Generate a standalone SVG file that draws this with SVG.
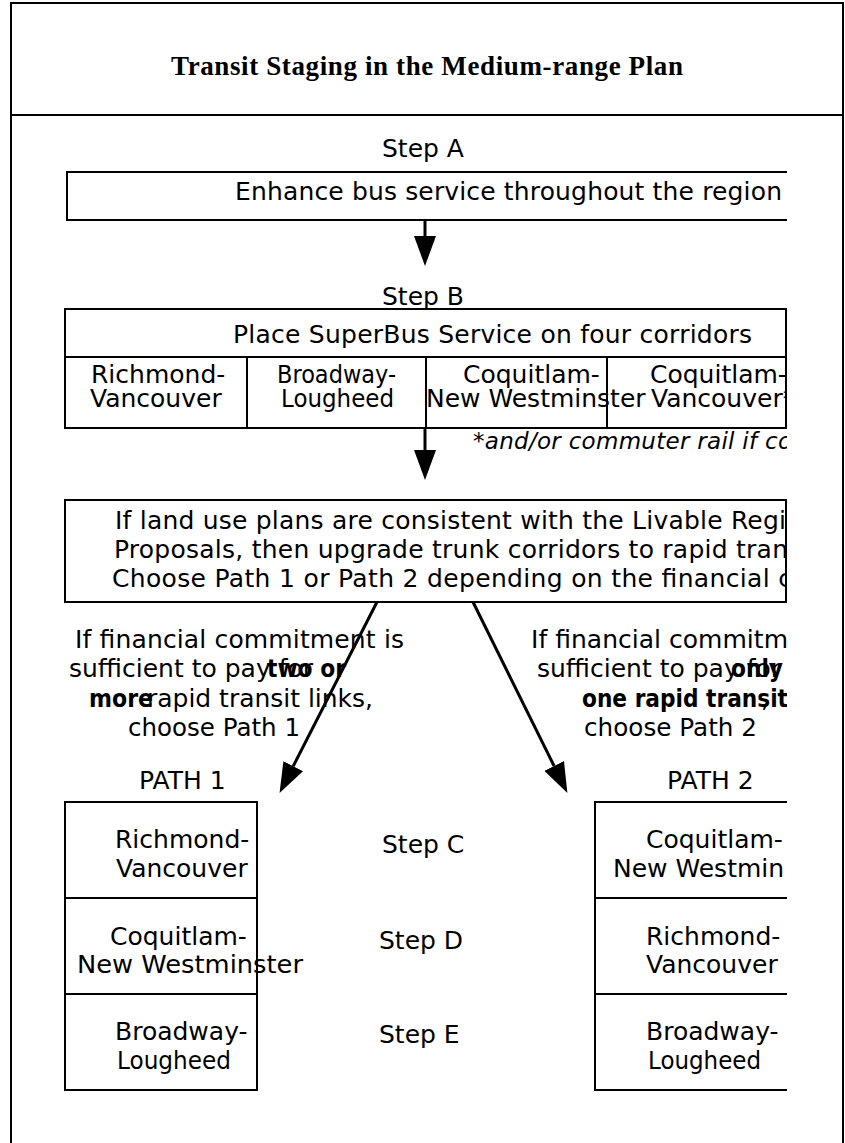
<svg xmlns="http://www.w3.org/2000/svg" width="845" height="1143" viewBox="0 0 845 1143">
<style>
.t{font-family:"DejaVu Sans",Verdana,sans-serif;font-size:25px;fill:#000}
.b{font-weight:bold}
.i{font-style:italic;font-size:23px}
.title{font-family:"Liberation Serif","Times New Roman",serif;font-weight:bold;font-size:27px;fill:#000}
.box{fill:#fff;stroke:#000;stroke-width:2}
.ln{fill:none;stroke:#000;stroke-width:2}
.conn{fill:none;stroke:#000;stroke-width:3}
</style>
<defs>
<marker id="ah" markerUnits="userSpaceOnUse" viewBox="0 0 30 22" refX="0" refY="11" markerWidth="30" markerHeight="22" orient="auto">
<path d="M0,0 L30,11 L0,22 z" fill="#000"/>
</marker>
<clipPath id="clip"><rect x="0" y="0" width="787" height="1143"/></clipPath>
</defs>
<rect x="0" y="0" width="845" height="1143" fill="#fff"/>
<g id="frame">
<path class="ln" d="M11,1143 V3 H843 V1143"/>
<line class="ln" x1="11" y1="115" x2="843" y2="115"/>
</g>
<g id="title">
<text class="title" x="171" y="75" textLength="512" lengthAdjust="spacing">Transit Staging in the Medium-range Plan</text>
</g>
<g clip-path="url(#clip)">
<g id="stepA">
<text class="t" x="382" y="157">Step A</text>
<rect class="box" x="67" y="172" width="721" height="48"/>
<text class="t" x="235" y="200" textLength="547" lengthAdjust="spacing">Enhance bus service throughout the region</text>
</g>
<g id="stepB">
<text class="t" x="382" y="305">Step B</text>
<rect class="box" x="65" y="309" width="721" height="119"/>
<line class="ln" x1="65" y1="357" x2="786" y2="357"/>
<line class="ln" x1="247" y1="357" x2="247" y2="428"/>
<line class="ln" x1="426" y1="357" x2="426" y2="428"/>
<line class="ln" x1="607" y1="357" x2="607" y2="428"/>
<text class="t" x="233" y="343" textLength="519" lengthAdjust="spacing">Place SuperBus Service on four corridors</text>
<text class="t" x="91" y="383">Richmond-</text>
<text class="t" x="90" y="407">Vancouver</text>
<text class="t" x="277" y="383" textLength="119" lengthAdjust="spacingAndGlyphs">Broadway-</text>
<text class="t" x="281" y="407" textLength="113" lengthAdjust="spacingAndGlyphs">Lougheed</text>
<text class="t" x="463" y="383">Coquitlam-</text>
<text class="t" x="426" y="407">New Westminster</text>
<text class="t" x="650" y="383">Coquitlam-</text>
<text class="t" x="651" y="407">Vancouver*</text>
<text class="t i" x="473" y="449" textLength="319" lengthAdjust="spacing">*and/or commuter rail if co</text>
</g>
<g id="decision">
<rect class="box" x="65" y="500" width="721" height="102"/>
<text class="t" x="115" y="529" textLength="671" lengthAdjust="spacing">If land use plans are consistent with the Livable Regi</text>
<text class="t" x="114" y="558" textLength="674" lengthAdjust="spacing">Proposals, then upgrade trunk corridors to rapid tran</text>
<text class="t" x="112" y="587" textLength="680" lengthAdjust="spacing">Choose Path 1 or Path 2 depending on the financial c</text>
</g>
<g id="label1">
<text class="t" x="75" y="648" textLength="329" lengthAdjust="spacing">If financial commitment is</text>
<text class="t" x="69" y="677">sufficient to pay for</text>
<text class="t b" x="267" y="677" textLength="79" lengthAdjust="spacingAndGlyphs">two or</text>
<text class="t b" x="89" y="707" textLength="64" lengthAdjust="spacingAndGlyphs">more</text>
<text class="t" x="147" y="707" textLength="226" lengthAdjust="spacing">rapid transit links,</text>
<text class="t" x="128" y="736" textLength="172" lengthAdjust="spacingAndGlyphs">choose Path 1</text>
</g>
<g id="label2">
<text class="t" x="531" y="648" textLength="257" lengthAdjust="spacing">If financial commitm</text>
<text class="t" x="537" y="677">sufficient to pay for</text>
<text class="t b" x="731" y="677" textLength="52" lengthAdjust="spacingAndGlyphs">only</text>
<text class="t b" x="582" y="707" textLength="206" lengthAdjust="spacingAndGlyphs">one rapid transit</text>
<text class="t" x="761" y="707">,</text>
<text class="t" x="584" y="736" textLength="173" lengthAdjust="spacingAndGlyphs">choose Path 2</text>
</g>
<g id="path1">
<text class="t" x="139" y="789">PATH 1</text>
<rect class="box" x="65" y="802" width="192" height="288"/>
<line class="ln" x1="65" y1="898" x2="257" y2="898"/>
<line class="ln" x1="65" y1="994" x2="257" y2="994"/>
<text class="t" x="115" y="848">Richmond-</text>
<text class="t" x="116" y="877">Vancouver</text>
<text class="t" x="110" y="945">Coquitlam-</text>
<text class="t" x="77" y="973" textLength="226" lengthAdjust="spacingAndGlyphs">New Westminster</text>
<text class="t" x="115" y="1040">Broadway-</text>
<text class="t" x="117" y="1069" textLength="114" lengthAdjust="spacingAndGlyphs">Lougheed</text>
</g>
<g id="steps">
<text class="t" x="382" y="853">Step C</text>
<text class="t" x="379" y="949">Step D</text>
<text class="t" x="379" y="1043">Step E</text>
</g>
<g id="path2">
<text class="t" x="667" y="789">PATH 2</text>
<rect class="box" x="595" y="802" width="193" height="288"/>
<line class="ln" x1="595" y1="898" x2="788" y2="898"/>
<line class="ln" x1="595" y1="994" x2="788" y2="994"/>
<text class="t" x="646" y="848">Coquitlam-</text>
<text class="t" x="613" y="877">New Westmin</text>
<text class="t" x="646" y="945">Richmond-</text>
<text class="t" x="646" y="973">Vancouver</text>
<text class="t" x="646" y="1040">Broadway-</text>
<text class="t" x="648" y="1069" textLength="113" lengthAdjust="spacingAndGlyphs">Lougheed</text>
</g>
</g>
<g id="connectors">
<path class="conn" d="M425,220 V236" marker-end="url(#ah)"/>
<path class="conn" d="M425,428 V450" marker-end="url(#ah)"/>
<path class="conn" d="M377,602 L293.2,766.2" marker-end="url(#ah)"/>
<path class="conn" d="M473,602 L554.1,766" marker-end="url(#ah)"/>
</g>
</svg>
